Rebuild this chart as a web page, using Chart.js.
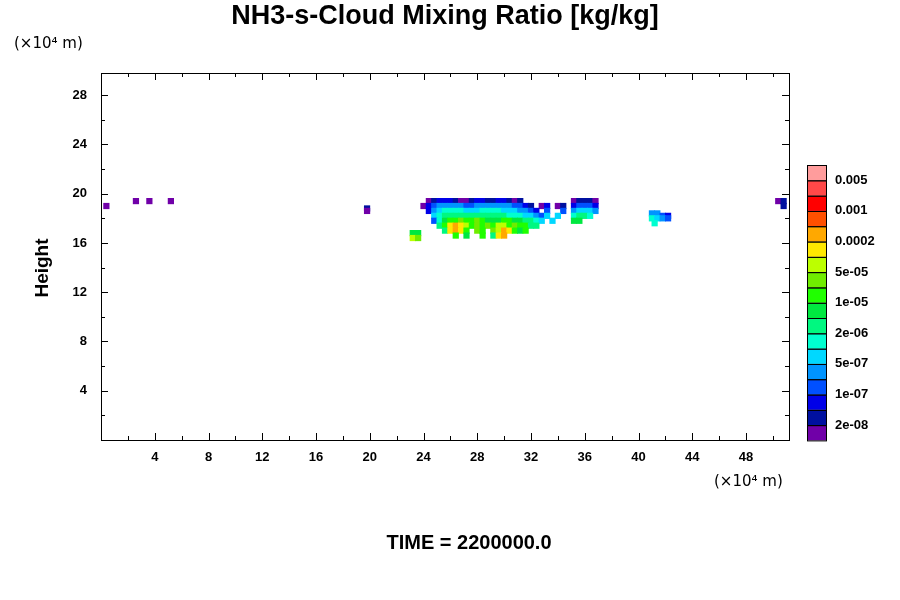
<!DOCTYPE html>
<html>
<head>
<meta charset="utf-8">
<script src="https://cdn.jsdelivr.net/npm/chart.js@4"></script>
<style>
  body { margin: 0; background: #fff; }
  #wrap { width: 900px; height: 600px; }
</style>
</head>
<body>
<div id="wrap"><canvas id="c" width="900" height="600"></canvas></div>
<script>
// colour levels, bottom (0) to top (17)
const levelColors = ['#7000a8', '#0010a0', '#0000e8', '#0050ff', '#0094ff', '#00d8ff', '#00ffd0', '#00f880',
  '#00e840', '#20ff00', '#70ec00', '#bcff00', '#ffe800', '#ffa800', '#ff5000', '#ff0000', '#ff4848', '#ff9c9c'];
const levelLabels = ['2e-08', '1e-07', '5e-07', '2e-06', '1e-05', '5e-05', '0.0002', '0.001', '0.005'];
const xTicks = [4, 8, 12, 16, 20, 24, 28, 32, 36, 40, 44, 48];
const yTicks = [4, 8, 12, 16, 20, 24, 28];

// main cloud, rows of levels ('.' = none), x from 24.0 step 0.4
const cloudX0 = 24.0;
const cloudY = [19.4, 19.0, 18.6, 18.2, 17.8, 17.4, 17.0, 16.6];
const cloudRows = [
  '.012221001221122101.........01110',
  '023444443344444443321.02.01.23332',
  '.245666655566665554432.3..3.45554',
  '..5677777777777766655435.5..6776.',
  '..36899a99a988899887765.5...88...',
  '...79cdcb9a9a9bb9a9977...........',
  '....7cdc9.a9.abdc989.............',
  '......9.8..9.7cd.................'
];
// isolated patches
const spotX = [0.4, 2.6, 3.6, 5.2, 19.8, 19.8, 23.2, 23.6, 23.2, 23.6, 41.0, 41.4, 41.8, 42.2, 41.0, 41.4, 41.8, 42.2, 41.2, 50.4, 50.8, 50.8];
const spotY = [19.0, 19.4, 19.4, 19.4, 18.8, 18.6, 16.8, 16.8, 16.4, 16.4, 18.4, 18.4, 18.2, 18.2, 18.0, 18.0, 18.0, 18.0, 17.6, 19.4, 19.4, 19.0];
const spotL = [0, 0, 0, 0, 1, 0, 8, 8, 11, 10, 4, 4, 3, 2, 6, 5, 4, 3, 6, 0, 1, 1];

const pts = [];
cloudRows.forEach((row, j) => {
  for (let i = 0; i < row.length; i++) {
    if (row[i] === '.') continue;
    pts.push({ x: cloudX0 + i * 0.4, y: cloudY[j], l: parseInt(row[i], 18) });
  }
});
spotX.forEach((x, i) => pts.push({ x: x, y: spotY[i], l: spotL[i] }));

const FONT = 'Liberation Sans, Arial, sans-serif';

const extras = {
  id: 'extras',
  afterDraw(chart) {
    const c = chart.ctx, a = chart.chartArea, sx = chart.scales.x, sy = chart.scales.y;
    c.save();
    c.strokeStyle = '#000'; c.lineWidth = 1;
    c.strokeRect(a.left + 0.5, a.top + 0.5, a.right - a.left, a.bottom - a.top);
    c.beginPath();
    for (let v = 2; v <= 50; v += 2) {
      const p = Math.round(sx.getPixelForValue(v)) + 0.5, len = v % 4 === 0 ? 7 : 4;
      c.moveTo(p, a.bottom); c.lineTo(p, a.bottom - len);
      c.moveTo(p, a.top); c.lineTo(p, a.top + len);
    }
    for (let v = 2; v <= 28; v += 2) {
      const p = Math.round(sy.getPixelForValue(v)) + 0.5, len = v % 4 === 0 ? 7 : 4;
      c.moveTo(a.left, p); c.lineTo(a.left + len, p);
      c.moveTo(a.right, p); c.lineTo(a.right - len, p);
    }
    c.stroke();
    // colour bar
    const n = levelColors.length, bx = 807, bw = 19, top = 165, bh = 15.3;
    for (let k = 0; k < n; k++) {
      const y = top + (n - 1 - k) * bh;
      c.fillStyle = levelColors[k];
      c.fillRect(bx, y, bw, bh);
      c.strokeRect(bx + 0.5, y + 0.5, bw, bh);
    }
    c.fillStyle = '#000';
    c.font = 'bold 13px ' + FONT;
    c.textBaseline = 'middle'; c.textAlign = 'left';
    levelLabels.forEach((t, i) => {
      const y = top + (n - (2 * i + 1)) * bh;
      c.fillText(t, 835, y);
    });
    // texts
    c.textAlign = 'center';
    c.font = 'bold 27px ' + FONT;
    c.fillText('NH3-s-Cloud Mixing Ratio [kg/kg]', 445, 17);
    c.font = 'bold 20px ' + FONT;
    c.fillText('TIME = 2200000.0', 469, 543);
    c.font = '15px DejaVu Sans, sans-serif';
    c.textAlign = 'left';
    c.fillText('(\u00d710\u2074 m)', 14, 44);
    c.fillText('(\u00d710\u2074 m)', 714, 482);
    c.translate(43, 268); c.rotate(-Math.PI / 2);
    c.textAlign = 'center';
    c.font = 'bold 19px ' + FONT;
    c.fillText('Height', 0, 0);
    c.restore();
  }
};

new Chart(document.getElementById('c'), {
  type: 'scatter',
  data: {
    datasets: [{
      data: pts,
      pointStyle: 'rect',
      pointRadius: 4.4,
      borderWidth: 0,
      backgroundColor: ctx => levelColors[ctx.raw.l],
      borderColor: ctx => levelColors[ctx.raw.l]
    }]
  },
  options: {
    responsive: false,
    animation: false,
    layout: { padding: { left: 0, top: 73, right: 111, bottom: 130 } },
    plugins: { legend: { display: false }, tooltip: { enabled: false } },
    scales: {
      x: {
        type: 'linear', min: 0, max: 51.2,
        afterFit: s => { s.height = 30; },
        afterBuildTicks: s => { s.ticks = xTicks.map(v => ({ value: v })); },
        grid: { display: false, drawTicks: false },
        border: { display: false },
        ticks: { color: '#000', font: { family: FONT, size: 13, weight: 'bold' }, padding: 10, maxRotation: 0 }
      },
      y: {
        type: 'linear', min: 0, max: 29.8,
        afterFit: s => { s.width = 101; },
        afterBuildTicks: s => { s.ticks = yTicks.map(v => ({ value: v })); },
        grid: { display: false, drawTicks: false },
        border: { display: false },
        ticks: { color: '#000', font: { family: FONT, size: 13, weight: 'bold' }, padding: 14 }
      }
    }
  },
  plugins: [extras]
});
</script>
</body>
</html>
